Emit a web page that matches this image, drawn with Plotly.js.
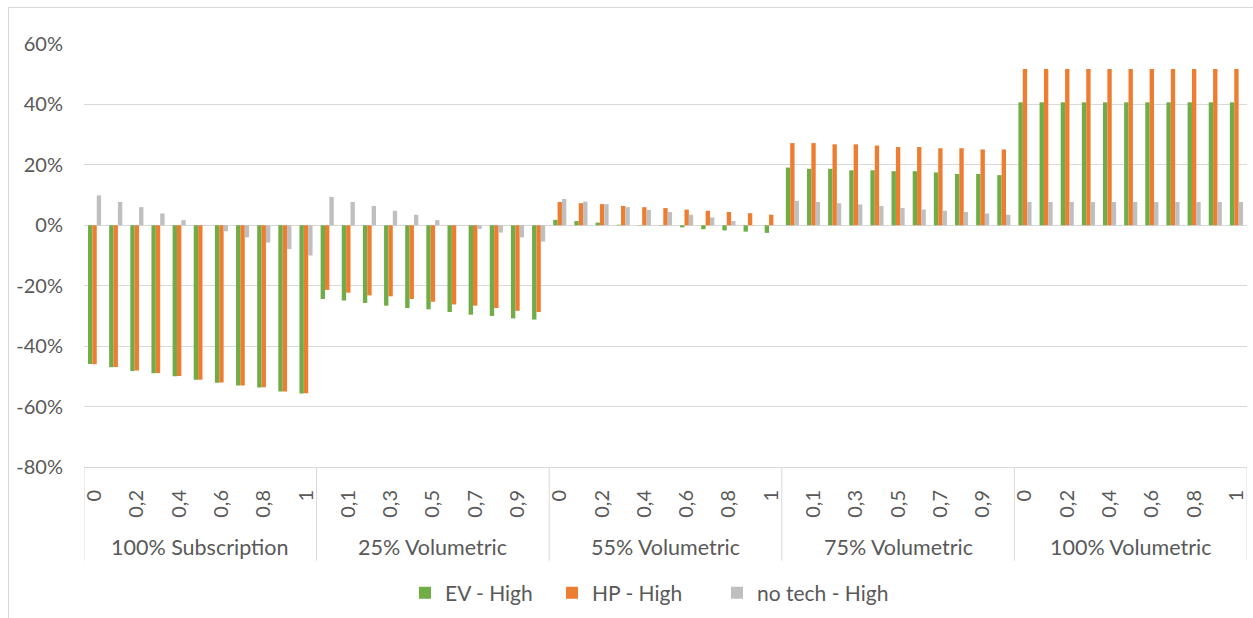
<!DOCTYPE html>
<html>
<head>
<meta charset="utf-8">
<script src="https://cdn.plot.ly/plotly-3.0.1.min.js"></script>
<style>
  html, body { margin: 0; padding: 0; background: #ffffff; overflow: hidden; }
  #chart { position: absolute; left: 0; top: 0; width: 1253px; height: 618px; }
  #frame { position: absolute; left: 8px; top: 7px; width: 1260px; height: 630px;
           border: 1px solid #D9D9D9; pointer-events: none; }
</style>
</head>
<body>
<div id="chart"></div>
<div id="frame"></div>
<script>
// ---- data ----
const groups = ["100% Subscription", "25% Volumetric", "55% Volumetric", "75% Volumetric", "100% Volumetric"];
const shares = ["0", "0,1", "0,2", "0,3", "0,4", "0,5", "0,6", "0,7", "0,8", "0,9", "1"];
const seriesNames = ["EV - High", "HP - High", "no tech - High"];
const seriesColors = ["#70AD47", "#ED7D31", "#BFBFBF"];

const evHigh = [
  -0.459, -0.470, -0.482, -0.490, -0.500, -0.511, -0.521, -0.530, -0.537, -0.550, -0.557,
  -0.244, -0.249, -0.257, -0.266, -0.274, -0.278, -0.287, -0.296, -0.300, -0.308, -0.312,
   0.018,  0.014,  0.009,  0.002,  0.001, -0.001, -0.007, -0.013, -0.017, -0.021, -0.025,
   0.191,  0.187,  0.187,  0.182,  0.182,  0.179,  0.179,  0.175,  0.170,  0.170,  0.166,
   0.407,  0.407,  0.407,  0.407,  0.407,  0.407,  0.407,  0.407,  0.407,  0.407,  0.407
];
const hpHigh = [
  -0.460, -0.469, -0.481, -0.489, -0.499, -0.511, -0.520, -0.530, -0.536, -0.550, -0.556,
  -0.214, -0.223, -0.232, -0.235, -0.244, -0.253, -0.262, -0.266, -0.274, -0.283, -0.287,
   0.077,  0.073,  0.070,  0.064,  0.060,  0.057,  0.052,  0.048,  0.044,  0.040,  0.035,
   0.272,  0.272,  0.268,  0.268,  0.264,  0.259,  0.259,  0.255,  0.255,  0.251,  0.251,
   0.517,  0.517,  0.517,  0.517,  0.517,  0.517,  0.517,  0.517,  0.517,  0.517,  0.517
];
const noTechHigh = [
   0.099,  0.077,  0.060,  0.039,  0.017,  0.001, -0.020, -0.040, -0.057, -0.079, -0.100,
   0.094,  0.077,  0.064,  0.048,  0.035,  0.017,  0.001, -0.012, -0.024, -0.040, -0.054,
   0.087,  0.078,  0.070,  0.060,  0.051,  0.044,  0.035,  0.026,  0.014,  0.001, -0.001,
   0.081,  0.077,  0.073,  0.069,  0.064,  0.057,  0.052,  0.048,  0.044,  0.039,  0.035,
   0.077,  0.077,  0.077,  0.077,  0.077,  0.077,  0.077,  0.077,  0.077,  0.077,  0.077
];
const yTickValues = [-0.8, -0.6, -0.4, -0.2, 0, 0.2, 0.4, 0.6];
const yTickText = ["-80%", "-60%", "-40%", "-20%", "0%", "20%", "40%", "60%"];

// ---- build positions from the categories ----
const nSub = shares.length;
const xIdx = [];
const subLabels = [];
groups.forEach((g, gi) => shares.forEach((s, si) => { xIdx.push(gi * nSub + si); subLabels.push(s); }));
const tickVals = xIdx.filter(i => i % 2 === 0);
const tickText = tickVals.map(i => subLabels[i]);

const txtColor = "#595959";
const fontFam = "Lato, 'Open Sans', sans-serif";
const gridCol = "#D9D9D9";

const plotLeft = 84, plotRight = 1247, plotW = plotRight - plotLeft;
const plotTop = 44, plotBottom = 468, plotH = plotBottom - plotTop;
const pxToPaperY = px => (plotBottom - px) / plotH;
const pxToPaperX = px => (px - plotLeft) / plotW;

// one legend box per series so the entries sit where the reference has them
const legendKeys = ["legend", "legend2", "legend3"];
const legendLeftPx = [405, 552, 717];

const allSeries = [evHigh, hpHigh, noTechHigh];
const traces = allSeries.map((vals, k) => ({
  type: "bar",
  name: seriesNames[k],
  x: xIdx,
  y: vals,
  legend: legendKeys[k],
  marker: { color: seriesColors[k], line: { width: 0 } },
  hoverinfo: "skip"
}));

const shapes = [];
for (let gi = 0; gi <= groups.length; gi++) {
  shapes.push({
    type: "line", xref: "x", yref: "paper",
    x0: gi * nSub - 0.5, x1: gi * nSub - 0.5,
    y0: 0, y1: pxToPaperY(562),
    line: { color: gridCol, width: 1 }
  });
}
const annotations = groups.map((g, gi) => ({
  xref: "x", yref: "paper",
  x: gi * nSub + (nSub - 1) / 2, y: pxToPaperY(548),
  text: g, showarrow: false, xanchor: "center", yanchor: "middle",
  font: { family: fontFam, size: 21.5, color: txtColor }
}));

const layout = {
  width: 1253, height: 618,
  margin: { l: plotLeft, r: 1253 - plotRight, t: plotTop, b: 618 - plotBottom, pad: 0 },
  paper_bgcolor: "#ffffff", plot_bgcolor: "#ffffff",
  barmode: "group", bargap: 0.38, bargroupgap: 0,
  showlegend: true,
  xaxis: {
    type: "linear", range: [-0.5, groups.length * nSub - 0.5],
    tickmode: "array", tickvals: tickVals, ticktext: tickText,
    tickangle: -90, ticks: "", ticklabelstandoff: 14,
    showgrid: false, zeroline: false,
    showline: true, linecolor: gridCol, linewidth: 1,
    tickfont: { family: fontFam, size: 20, color: txtColor },
    fixedrange: true
  },
  yaxis: {
    range: [-0.8, 0.6], tickmode: "array", tickvals: yTickValues, ticktext: yTickText,
    ticks: "", ticklabelstandoff: 20,
    showgrid: true, gridcolor: gridCol, gridwidth: 1,
    zeroline: false, showline: false,
    tickfont: { family: fontFam, size: 20, color: txtColor },
    fixedrange: true
  },
  shapes: shapes,
  annotations: annotations
};
legendKeys.forEach((key, k) => {
  layout[key] = {
    orientation: "h", xref: "paper", x: pxToPaperX(legendLeftPx[k]), xanchor: "left",
    y: pxToPaperY(593), yanchor: "middle",
    font: { family: fontFam, size: 21, color: txtColor },
    itemwidth: 30, bgcolor: "rgba(0,0,0,0)"
  };
});

Plotly.newPlot("chart", traces, layout, { displayModeBar: false, staticPlot: true });
</script>
</body>
</html>
